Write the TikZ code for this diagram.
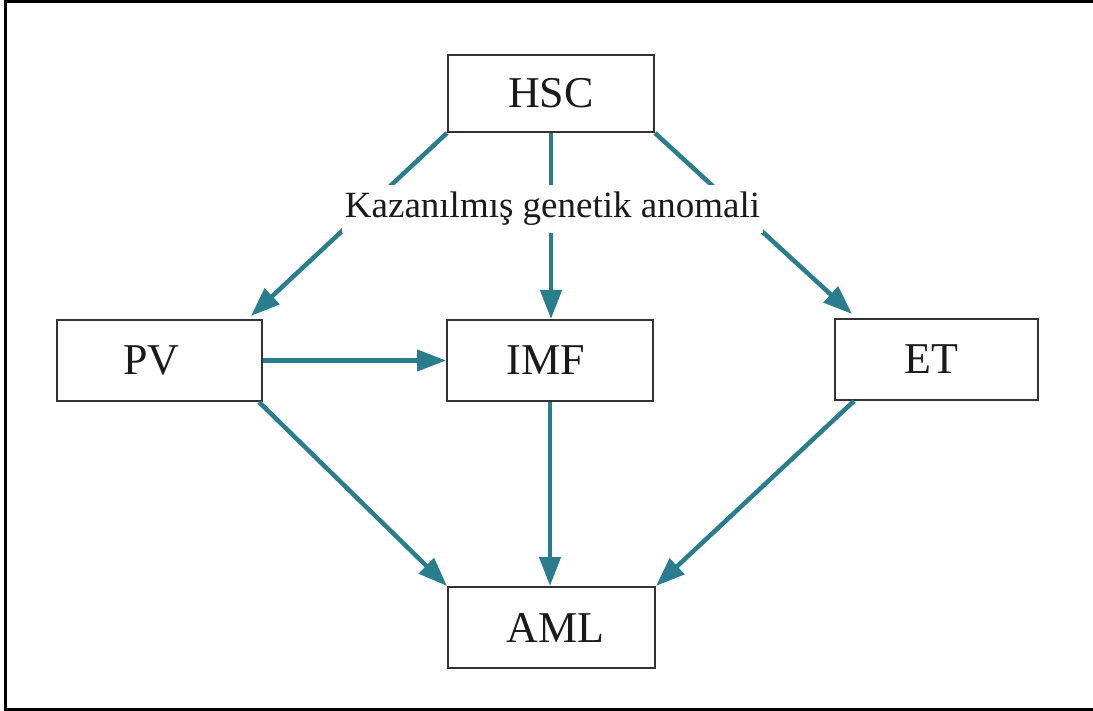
\documentclass[tikz,border=0pt]{standalone}
\usepackage{fontspec}
\setmainfont{Liberation Serif}
\usetikzlibrary{arrows.meta}
\definecolor{flow}{HTML}{2A7D8C}
\definecolor{boxline}{HTML}{333333}
\definecolor{ink}{HTML}{1A1A1A}
\tikzset{
  stage/.style={draw=boxline, line width=2pt, fill=white, text=ink,
    font=\fontsize{44}{48}\selectfont, inner sep=0pt},
  flowarrow/.style={draw=flow, line width=4.5pt,
    -{Triangle[length=29pt,width=21pt]}},
  note/.style={fill=white, text=ink, font=\fontsize{37}{42}\selectfont,
    inner xsep=3pt, inner ysep=7pt}
}
\begin{document}
\begin{tikzpicture}[x=1pt,y=-1pt]
  \useasboundingbox (0,0) rectangle (1093,711);
  % outer frame (open on the right)
  \draw[line width=3pt, black] (1093,1.5) -- (5.5,1.5) -- (5.5,709.5) -- (1093,709.5);

  % stages
  \node[stage, minimum width=206pt, minimum height=77pt] (hsc) at (551,93.5) {HSC};
  \node[stage, minimum width=205pt, minimum height=81pt] (pv)  at (159.5,360.5) {\kern-16pt PV};
  \node[stage, minimum width=206pt, minimum height=81pt] (imf) at (550,360.5) {\kern-8pt IMF};
  \node[stage, minimum width=203pt, minimum height=81pt] (et)  at (936.5,359.5) {\kern-10pt ET};
  \node[stage, minimum width=207pt, minimum height=81pt] (aml) at (551.5,627.5) {AML\kern-8pt};

  % transitions
  \draw[flowarrow] (hsc.south west) -- ([xshift=-12pt,yshift=3pt]pv.north east);
  \draw[flowarrow] (hsc.south) -- (hsc.south |- imf.north);
  \draw[flowarrow] (hsc.south east) -- ([xshift=18pt,yshift=4pt]et.north west);
  \draw[flowarrow] (pv.east) -- (imf.west);
  \draw[flowarrow] ([xshift=-4pt]pv.south east) -- (aml.north west);
  \draw[flowarrow] (imf.south) -- (imf.south |- aml.north);
  \draw[flowarrow] ([xshift=20pt]et.south west) -- (aml.north east);

  % label across the three upper transitions
  \node[note] (gen) at (552.5,209) {Kazanılmış genetik anomali};
\end{tikzpicture}
\end{document}
